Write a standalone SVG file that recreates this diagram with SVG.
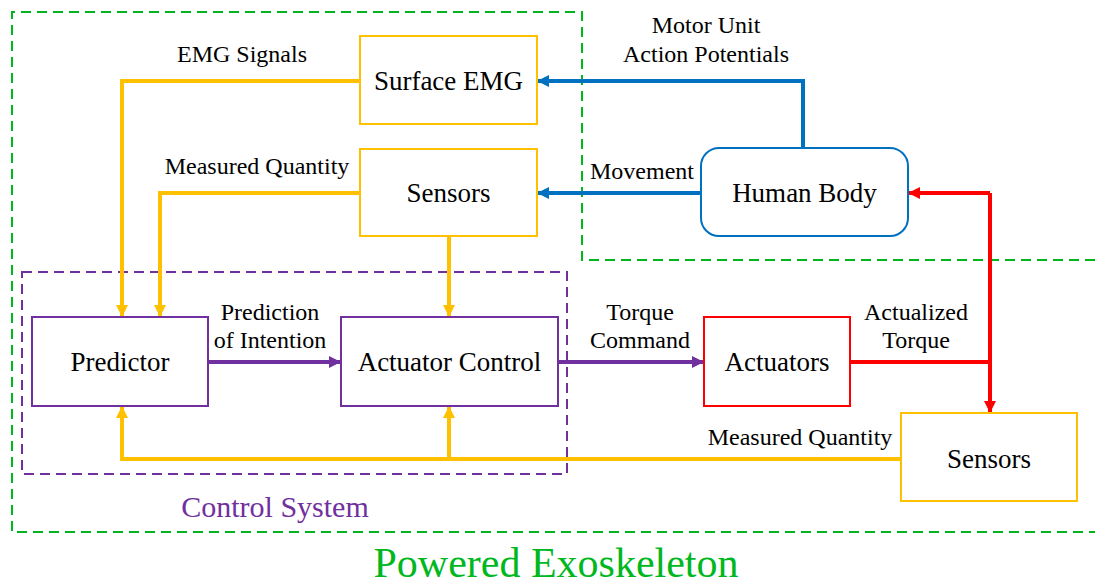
<svg xmlns="http://www.w3.org/2000/svg" width="1095" height="587" viewBox="0 0 1095 587">
  <style>
    text { font-family: "Liberation Serif", "Tinos", "DejaVu Serif", serif; }
    .node { fill: #ffffff; stroke-width: 2; }
    .yel { stroke: #FFC000; }
    .pur { stroke: #7030A0; }
    .red { stroke: #FF0000; }
    .blu { stroke: #0070C0; }
    .ntext { font-size: 27px; fill: #000; text-anchor: middle; }
    .ltext { font-size: 24px; fill: #000; text-anchor: middle; }
    .wire { fill: none; stroke-width: 4; stroke-linejoin: miter; }
  </style>
  <defs>
    <marker id="ay" viewBox="0 0 12 12" refX="12" refY="6" markerUnits="userSpaceOnUse" markerWidth="12" markerHeight="12" orient="auto">
      <path d="M0,0 L12,6 L0,12 z" fill="#FFC000"/>
    </marker>
    <marker id="ab" viewBox="0 0 12 12" refX="12" refY="6" markerUnits="userSpaceOnUse" markerWidth="12" markerHeight="12" orient="auto">
      <path d="M0,0 L12,6 L0,12 z" fill="#0070C0"/>
    </marker>
    <marker id="ap" viewBox="0 0 12 12" refX="12" refY="6" markerUnits="userSpaceOnUse" markerWidth="12" markerHeight="12" orient="auto">
      <path d="M0,0 L12,6 L0,12 z" fill="#7030A0"/>
    </marker>
    <marker id="ar" viewBox="0 0 12 12" refX="12" refY="6" markerUnits="userSpaceOnUse" markerWidth="12" markerHeight="12" orient="auto">
      <path d="M0,0 L12,6 L0,12 z" fill="#FF0000"/>
    </marker>
  </defs>

  <rect width="1095" height="587" fill="#ffffff"/>

  <!-- boundaries -->
  <g id="powered-exoskeleton">
    <path d="M1095,260 L582,260 L582,12 L12,12 L12,532 L1095,532" fill="none" stroke="#00B81E" stroke-width="2" stroke-dasharray="10,6"/>
    <text x="556" y="577" font-size="42" fill="#00B81E" text-anchor="middle">Powered Exoskeleton</text>
  </g>
  <g id="control-system">
    <rect x="22" y="272" width="545" height="202" fill="none" stroke="#7030A0" stroke-width="2" stroke-dasharray="10,6"/>
    <text x="275" y="517" font-size="30" fill="#7030A0" text-anchor="middle">Control System</text>
  </g>

  <!-- connectors -->
  <g id="connectors">
    <path class="wire yel" d="M360,81 L122,81 L122,317" marker-end="url(#ay)"/>
    <path class="wire yel" d="M360,193 L160,193 L160,317" marker-end="url(#ay)"/>
    <path class="wire yel" d="M449,236 L449,317" marker-end="url(#ay)"/>
    <path class="wire yel" d="M901,459 L122,459 L122,406" marker-end="url(#ay)"/>
    <path class="wire yel" d="M449,459 L449,406" marker-end="url(#ay)"/>
    <path class="wire blu" d="M803,148 L803,81 L537,81" marker-end="url(#ab)"/>
    <path class="wire blu" d="M701,193 L537,193" marker-end="url(#ab)"/>
    <path class="wire pur" d="M208,362 L341,362" marker-end="url(#ap)"/>
    <path class="wire pur" d="M558,362 L704,362" marker-end="url(#ap)"/>
    <path class="wire red" d="M850,362 L990,362"/>
    <path class="wire red" d="M990,193 L990,413" marker-end="url(#ar)"/>
    <path class="wire red" d="M990,193 L908,193" marker-end="url(#ar)"/>

    <text class="ltext" x="242" y="62">EMG Signals</text>
    <text class="ltext" x="257" y="174">Measured Quantity</text>
    <text class="ltext" x="706" y="33">Motor Unit</text>
    <text class="ltext" x="706" y="62">Action Potentials</text>
    <text class="ltext" x="642" y="179">Movement</text>
    <text class="ltext" x="270" y="320">Prediction</text>
    <text class="ltext" x="270" y="348">of Intention</text>
    <text class="ltext" x="640" y="320">Torque</text>
    <text class="ltext" x="640" y="348">Command</text>
    <text class="ltext" x="916" y="320">Actualized</text>
    <text class="ltext" x="916" y="348">Torque</text>
    <text class="ltext" x="800" y="445">Measured Quantity</text>
  </g>

  <!-- nodes -->
  <g id="surface-emg">
    <rect class="node yel" x="360" y="36" width="177" height="88"/>
    <text class="ntext" x="448.5" y="90">Surface EMG</text>
  </g>
  <g id="sensors-top">
    <rect class="node yel" x="360" y="149" width="177" height="87"/>
    <text class="ntext" x="448.5" y="202">Sensors</text>
  </g>
  <g id="human-body">
    <rect class="node blu" x="701" y="148" width="207" height="88" rx="18" ry="18"/>
    <text class="ntext" x="804.5" y="202">Human Body</text>
  </g>
  <g id="predictor">
    <rect class="node pur" x="32" y="317" width="176" height="89"/>
    <text class="ntext" x="120" y="371">Predictor</text>
  </g>
  <g id="actuator-control">
    <rect class="node pur" x="341" y="317" width="217" height="89"/>
    <text class="ntext" x="449.5" y="371">Actuator Control</text>
  </g>
  <g id="actuators">
    <rect class="node red" x="704" y="317" width="146" height="89"/>
    <text class="ntext" x="777" y="371">Actuators</text>
  </g>
  <g id="sensors-bottom">
    <rect class="node yel" x="901" y="413" width="176" height="88"/>
    <text class="ntext" x="989" y="468">Sensors</text>
  </g>
</svg>
